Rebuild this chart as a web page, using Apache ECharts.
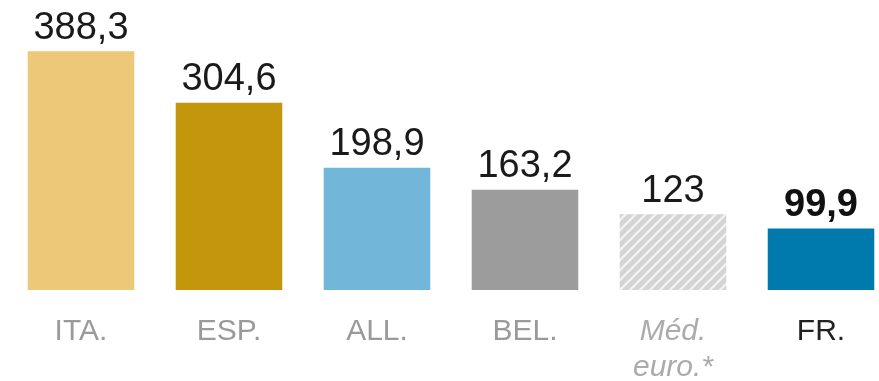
<!DOCTYPE html>
<html><head><meta charset="utf-8">
<script src="https://cdn.jsdelivr.net/npm/echarts@6/dist/echarts.min.js"></script>
<style>html,body{margin:0;padding:0;background:#fff}#c{width:879px;height:381px}</style>
</head><body><div id="c"></div>
<script>
var categories = ['ITA.', 'ESP.', 'ALL.', 'BEL.', 'Méd.\neuro.*', 'FR.'];
var values = [388.3, 304.6, 198.9, 163.2, 123, 99.9];
var barColors = ['#ECC878', '#C4960C', '#72B7DA', '#9C9C9C', 'hatch', '#0079AD'];

function hatch() {
  var c = document.createElement('canvas');
  c.width = 10; c.height = 10;
  var g = c.getContext('2d');
  g.fillStyle = '#D4D4D4';
  g.fillRect(0, 0, 10, 10);
  g.strokeStyle = '#F4F4F4';
  g.lineWidth = 2.2;
  [[-10, 10, 10, -10], [0, 10, 10, 0], [0, 20, 20, 0]].forEach(function (l) {
    g.beginPath(); g.moveTo(l[0], l[1]); g.lineTo(l[2], l[3]); g.stroke();
  });
  return { image: c, repeat: 'repeat' };
}

var font = '"Liberation Sans", Arial, sans-serif';
var chart = echarts.init(document.getElementById('c'));
chart.setOption({
  animation: false,
  grid: { left: 7, width: 888, top: 44, height: 246, outerBoundsMode: 'none', containLabel: false },
  xAxis: {
    type: 'category',
    data: categories.map(function (c, i) {
      var ts = { color: '#9a9a9a' };
      if (i === 4) ts = { color: '#ababab', fontStyle: 'italic' };
      if (i === 5) ts = { color: '#222' };
      return { value: c, textStyle: ts };
    }),
    axisLine: { show: false }, axisTick: { show: false },
    axisLabel: { fontFamily: font, fontSize: 30, lineHeight: 36, margin: 24, interval: 0 }
  },
  yAxis: { type: 'value', min: 0, max: 400, show: false, splitLine: { show: false } },
  series: [{
    type: 'bar',
    barCategoryGap: '28%',
    data: values.map(function (v, i) {
      return {
        value: v,
        itemStyle: { color: barColors[i] === 'hatch' ? hatch() : barColors[i] },
        label: i === 5 ? { fontWeight: 'bold', color: '#111' } : {}
      };
    }),
    label: {
      show: true, position: 'top', distance: 4,
      fontFamily: font, fontSize: 38, color: '#1a1a1a',
      formatter: function (p) { return String(p.value).replace('.', ','); }
    }
  }]
});
</script></body></html>
